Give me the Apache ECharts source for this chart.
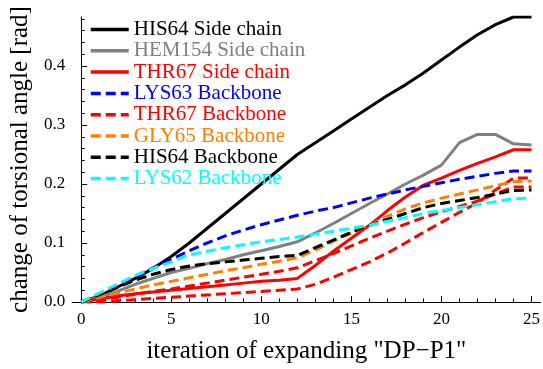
<!DOCTYPE html>
<html>
<head>
<meta charset="utf-8">
<script src="https://cdn.jsdelivr.net/npm/echarts@6/dist/echarts.min.js"></script>
<style>html,body{margin:0;padding:0;background:#fff}#c{width:543px;height:369px}</style>
</head>
<body>
<div id="c"></div>
<script>
var iterations = [0,1,2,3,4,5,6,7,8,9,10,11,12,13,14,15,16,17,18,19,20,21,22,23,24,25];
var xTicks = [0,5,10,15,20,25];
var yTicks = [0,0.1,0.2,0.3,0.4];
var yMinorTicks = [0,0.02,0.04,0.06,0.08,0.1,0.12,0.14,0.16,0.18,0.2,0.22,0.24,0.26,0.28,0.3,0.32,0.34,0.36,0.38,0.4,0.42,0.44,0.46,0.48];
var his64Side  = [0,0.01,0.025,0.04,0.057,0.077,0.10,0.125,0.15,0.175,0.20,0.225,0.25,0.27,0.29,0.31,0.33,0.35,0.368,0.388,0.41,0.432,0.453,0.47,0.483,0.483];
var hem154Side = [0,0.008,0.018,0.03,0.04,0.05,0.057,0.065,0.072,0.08,0.087,0.094,0.102,0.117,0.133,0.15,0.167,0.183,0.20,0.215,0.232,0.27,0.284,0.284,0.268,0.266];
var thr67Side  = [0,0.005,0.01,0.014,0.017,0.02,0.023,0.026,0.029,0.032,0.035,0.037,0.04,0.062,0.086,0.108,0.13,0.155,0.178,0.198,0.21,0.223,0.235,0.246,0.258,0.258];
var lys63Bb    = [0,0.012,0.028,0.043,0.058,0.072,0.087,0.10,0.112,0.122,0.131,0.139,0.147,0.154,0.16,0.168,0.176,0.183,0.19,0.196,0.202,0.208,0.213,0.218,0.222,0.222];
var thr67BbA   = [0,0.003,0.008,0.013,0.018,0.022,0.027,0.032,0.037,0.042,0.047,0.052,0.058,0.07,0.082,0.095,0.108,0.12,0.132,0.143,0.153,0.162,0.171,0.183,0.195,0.195];
var thr67BbB   = [0,0,0.002,0.004,0.006,0.008,0.01,0.012,0.014,0.016,0.018,0.02,0.022,0.03,0.042,0.055,0.068,0.083,0.10,0.118,0.135,0.152,0.168,0.19,0.21,0.21];
var gly65Bb    = [0,0.008,0.015,0.022,0.029,0.035,0.041,0.047,0.053,0.058,0.064,0.069,0.075,0.088,0.103,0.117,0.13,0.145,0.158,0.168,0.176,0.183,0.19,0.197,0.204,0.205];
var his64Bb    = [0,0.012,0.025,0.037,0.047,0.055,0.061,0.065,0.068,0.071,0.074,0.077,0.079,0.092,0.105,0.118,0.13,0.14,0.15,0.16,0.167,0.172,0.177,0.183,0.189,0.19];
var lys62Bb    = [0,0.015,0.03,0.045,0.057,0.068,0.08,0.086,0.092,0.097,0.102,0.106,0.11,0.115,0.12,0.125,0.13,0.137,0.143,0.15,0.155,0.16,0.165,0.17,0.175,0.176];

var seriesDefs = [
  {name:'HIS64 Side chain',   data:his64Side,  color:'#000000', dash:'solid'},
  {name:'HEM154 Side chain',  data:hem154Side, color:'#808080', dash:'solid'},
  {name:'THR67 Side chain',   data:thr67Side,  color:'#ff0000', dash:'solid'},
  {name:'LYS63 Backbone',     data:lys63Bb,    color:'#0000ff', dash:[10,5]},
  {name:'THR67 Backbone',     data:thr67BbA,   color:'#ff0000', dash:[10,5]},
  {name:'THR67 Backbone',     data:thr67BbB,   color:'#ff0000', dash:[10,5]},
  {name:'GLY65 Backbone',     data:gly65Bb,    color:'#ff8000', dash:[10,5]},
  {name:'HIS64 Backbone',     data:his64Bb,    color:'#000000', dash:[10,5]},
  {name:'LYS62 Backbone',     data:lys62Bb,    color:'#00ffff', dash:[10,5]}
];

var FONT = '"Liberation Serif","DejaVu Serif",serif';
var chart = echarts.init(document.getElementById('c'), null, {renderer:'canvas'});

var series = seriesDefs.map(function(s){
  return {
    type:'line', name:s.name, xAxisIndex:0, yAxisIndex:0,
    data: iterations.map(function(x,i){return [x, s.data[i]];}),
    symbol:'none', showSymbol:false, smooth:false, animation:false,
    color:s.color,
    lineStyle:{color:s.color, width:3, type:s.dash, cap:'butt'}
  };
});

var legendNames = [];
seriesDefs.forEach(function(s){ if (legendNames.indexOf(s.name) < 0) legendNames.push(s.name); });

var axisCommonX = {type:'value', min:-0.5, max:25.5, splitLine:{show:false}};
var axisCommonY = {type:'value', min:0, max:0.483, splitLine:{show:false}};

chart.setOption({
  animation:false,
  backgroundColor:'#ffffff',
  grid:{left:71, right:1, top:17, bottom:61, containLabel:false},
  legend:{
    orient:'vertical', left:89, top:19, padding:0,
    itemWidth:38, itemHeight:14, itemGap:0.3,
    itemStyle:{opacity:0, borderWidth:0},
    lineStyle:{width:3.5},
    data: legendNames.map(function(n){
      var d = seriesDefs.filter(function(s){return s.name===n;})[0];
      return {name:n, textStyle:{color:d.color}};
    }),
    textStyle:{fontFamily:FONT, fontSize:21, lineHeight:20}
  },
  xAxis:[
    Object.assign({}, axisCommonX, {
      position:'bottom',
      name:'iteration of expanding "DP\u2212P1"', nameLocation:'middle', nameGap:37,
      nameTextStyle:{fontFamily:FONT, fontSize:25, color:'#000'},
      axisLine:{show:true, lineStyle:{color:'#000', width:1}},
      axisTick:{show:true, inside:true, length:6, customValues:xTicks, lineStyle:{color:'#000'}},
      axisLabel:{show:true, customValues:xTicks, margin:9, fontFamily:FONT, fontSize:17, color:'#000'}
    }),
    Object.assign({}, axisCommonX, {
      position:'bottom',
      axisLine:{show:false},
      axisTick:{show:true, inside:true, length:3.5, customValues:iterations, lineStyle:{color:'#000'}},
      axisLabel:{show:false}
    })
  ],
  yAxis:[
    Object.assign({}, axisCommonY, {
      position:'left',
      name:'change of torsional angle [rad]', nameLocation:'middle', nameGap:39,
      nameTextStyle:{fontFamily:FONT, fontSize:25, color:'#000'},
      axisLine:{show:true, lineStyle:{color:'#000', width:1}},
      axisTick:{show:true, inside:true, length:6, customValues:yTicks, lineStyle:{color:'#000'}},
      axisLabel:{show:true, customValues:yTicks, margin:7, fontFamily:FONT, fontSize:17, color:'#000',
        formatter:function(v){return v.toFixed(1);}}
    }),
    Object.assign({}, axisCommonY, {
      position:'left',
      axisLine:{show:false},
      axisTick:{show:true, inside:true, length:3.5, customValues:yMinorTicks, lineStyle:{color:'#000'}},
      axisLabel:{show:false}
    })
  ],
  series: series
});
</script>
</body>
</html>
